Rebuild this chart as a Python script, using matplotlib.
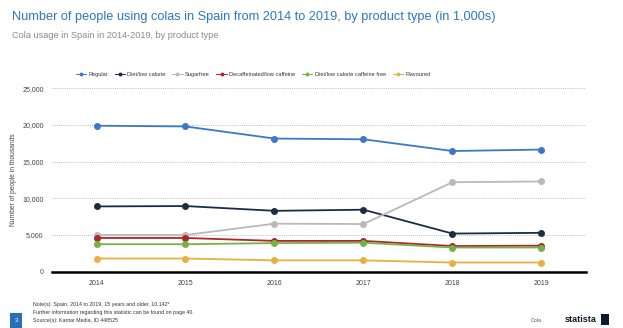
import matplotlib
matplotlib.use("Agg")
import matplotlib.pyplot as plt
from matplotlib.patches import Rectangle, Polygon

years = [2014, 2015, 2016, 2017, 2018, 2019]
regular = [19900, 19800, 18150, 18050, 16450, 16650]
diet_low = [8900, 8950, 8300, 8450, 5200, 5300]
sugarfree = [5000, 5000, 6550, 6500, 12200, 12300]
decaf = [4600, 4600, 4200, 4200, 3500, 3550]
diet_caf_free = [3750, 3750, 3900, 3950, 3300, 3300]
flavoured = [1800, 1800, 1550, 1550, 1250, 1250]

series_names = ["Regular", "Diet/low calorie", "Sugarfree", "Decaffeinated/low caffeine",
                "Diet/low calorie caffeine free", "Flavoured"]
series_vals = [regular, diet_low, sugarfree, decaf, diet_caf_free, flavoured]
colors = ["#3a78c8", "#1b2d45", "#b9b9b9", "#b1242b", "#73b443", "#e8b040"]
yticks = [0, 5000, 10000, 15000, 20000, 25000]
ytick_labels = ["0", "5,000", "10,000", "15,000", "20,000", "25,000"]

plt.rcParams['font.family'] = ['Liberation Sans', 'DejaVu Sans']

fig = plt.figure(figsize=(6.23, 3.28), dpi=100)
ax = fig.add_axes([0.0835, 0.1716, 0.857, 0.5592])

handles = []
for name, vals, c in zip(series_names, series_vals, colors):
    h, = ax.plot(years, vals, color=c, lw=1.3, marker='o', ms=4, label=name, zorder=3)
    handles.append(h)

ax.set_xlim(2013.5, 2019.5)
ax.set_ylim(0, 25000)
ax.set_xticks(years)
ax.set_xticklabels([str(y) for y in years])
ax.set_yticks(yticks)
ax.set_yticklabels(ytick_labels)
ax.tick_params(axis='both', length=0, labelsize=5, colors='#444444')
ax.tick_params(axis='x', pad=6)
ax.tick_params(axis='y', pad=6)
for s in ['top', 'right', 'left']:
    ax.spines[s].set_visible(False)
ax.spines['bottom'].set_color('black')
ax.spines['bottom'].set_linewidth(1.8)
for yv in yticks[1:]:
    ax.axhline(yv, color='#aaaaaa', lw=0.5, ls=(0, (1.5, 1.5)), zorder=1)
ax.set_ylabel("Number of people in thousands", fontsize=4.8, color='#444444', labelpad=4)

leg = fig.legend(handles=handles, loc='center', bbox_to_anchor=(0.406, 0.772), ncol=6,
                 frameon=False, fontsize=4.1, handlelength=1.8, columnspacing=1.2,
                 handletextpad=0.4, markerscale=0.45)
for h in leg.legend_handles:
    h.set_linewidth(0.7)
for t in leg.get_texts():
    t.set_color('#333333')

fig.text(0.019, 0.948, "Number of people using colas in Spain from 2014 to 2019, by product type (in 1,000s)",
         fontsize=9.2, color='#2a77c4', va='center', ha='left')
fig.text(0.019, 0.893, "Cola usage in Spain in 2014-2019, by product type",
         fontsize=6.6, color='#8a8a8a', va='center', ha='left')

# footer
fig.text(0.053, 0.072, "Note(s): Spain, 2014 to 2019, 15 years and older, 10,142*",
         fontsize=3.8, color='#333333', va='center')
fig.text(0.053, 0.047, "Further information regarding this statistic can be found on page 40.",
         fontsize=3.8, color='#333333', va='center')
fig.text(0.053, 0.022, "Source(s): Kantar Media, ID 448525",
         fontsize=3.8, color='#333333', va='center')
fig.patches.append(Rectangle((0.016, 0.0), 0.02, 0.045, transform=fig.transFigure,
                             facecolor='#2a6fb5', edgecolor='none'))
fig.text(0.026, 0.022, "3", fontsize=4.5, color='white', ha='center', va='center')
fig.text(0.852, 0.022, "Cola", fontsize=3.8, color='#555555', va='center')
fig.text(0.907, 0.026, "statista", fontsize=6.5, color='#0e1a2b', va='center',
         fontweight='bold', family=['Liberation Sans Narrow', 'Liberation Sans'])
fig.patches.append(Polygon([(0.965, 0.01), (0.978, 0.01), (0.978, 0.043), (0.965, 0.043)],
                           closed=True, transform=fig.transFigure, facecolor='#0e1a2b'))

fig.savefig("out.png", dpi=100)
